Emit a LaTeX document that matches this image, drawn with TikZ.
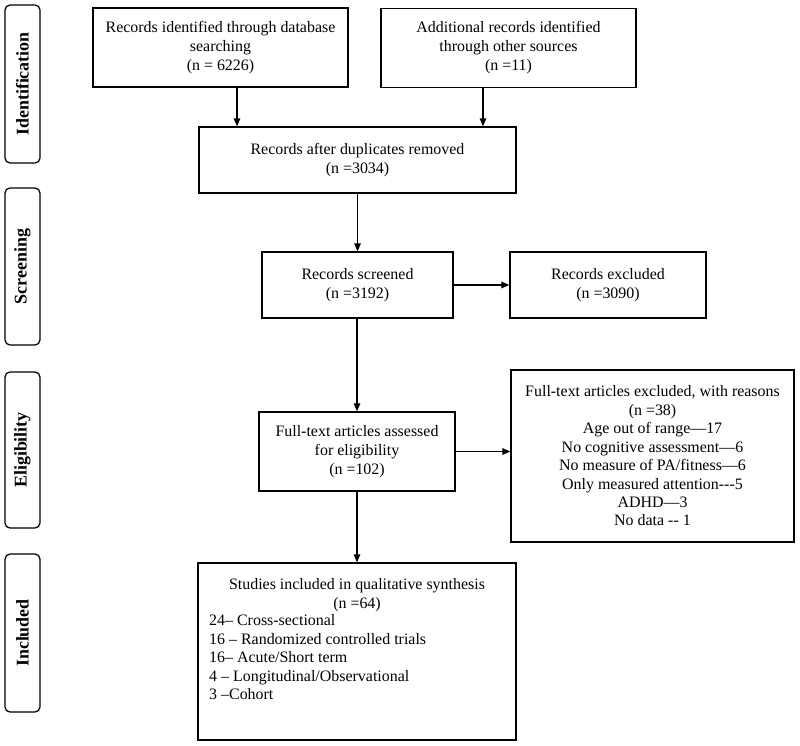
\documentclass[tikz,border=0pt]{standalone}
\usepackage{fontspec}
\setmainfont{Liberation Serif}
\usetikzlibrary{arrows.meta}
\begin{document}
\begin{tikzpicture}[x=1bp,y=-1bp,
 txt/.style={font=\fontsize{16}{19}\selectfont},
 box/.style={draw, line width=1.25bp, align=center, inner sep=0pt, txt},
 side/.style={draw, line width=1.25bp, rounded corners=5bp, inner sep=0pt, minimum height=35bp,
   font=\fontsize{18}{20}\selectfont\bfseries, rotate=90},
 arr/.style={-{Triangle[length=8bp,width=6.5bp]}, line width=1.3bp}]
\useasboundingbox[fill=white] (0,0) rectangle (800,746);

% side labels
\node[side, minimum width=158bp] (sid) at (22.5,84) {Identification};
\node[side, minimum width=157bp] (sscr) at (22.5,266.5) {Screening};
\node[side, minimum width=156bp] (selg) at (22.5,450) {Eligibility};
\node[side, minimum width=158bp] (sinc) at (22.5,633) {Included};

% boxes
\node[box, minimum width=255bp, minimum height=79bp] (id1) at (220.5,47.5)
  {Records identified through database\\searching\\(n = 6226)};
\node[box, minimum width=255bp, minimum height=79bp] (id2) at (508.5,48)
  {Additional records identified\\through other sources\\(n =11)};
\node[box, minimum width=317bp, minimum height=66bp] (dup) at (357.5,160)
  {Records after duplicates removed\\(n =3034)};
\node[box, minimum width=191bp, minimum height=66bp] (scr) at (357.5,285)
  {Records screened\\(n =3192)};
\node[box, minimum width=196bp, minimum height=66bp] (exc) at (608,285)
  {Records excluded\\(n =3090)};
\node[box, minimum width=196bp, minimum height=79bp] (elg) at (357,451.5)
  {Full-text articles assessed\\for eligibility\\(n =102)};
\node[box, minimum width=283bp, minimum height=172bp, font=\fontsize{16}{18.5}\selectfont] (ftx) at (652.5,456)
  {Full-text articles excluded, with reasons\\(n =38)\\Age out of range—17\\No cognitive assessment—6\\No measure of PA/fitness—6\\Only measured attention-{}-{}-5\\ADHD—3\\No data -{}- 1};
\node[box, minimum width=318bp, minimum height=177bp] (inc) at (357,651.5) {};
\node[txt, align=center, inner sep=0pt, anchor=north] (inct) at (357,578)
  {Studies included in qualitative synthesis\\(n =64)};
\node[txt, align=left, inner sep=0pt, anchor=north west, font=\fontsize{16}{18.5}\selectfont] (incl) at (209,614.5)
  {24– Cross-sectional\\16 – Randomized controlled trials\\16– Acute/Short term\\4 – Longitudinal/Observational\\3 –Cohort};

% connectors
\coordinate (c1) at (237,0);
\coordinate (c2) at (483,0);
\draw[arr] (id1.south -| c1) -- (dup.north -| c1);
\draw[arr] (id2.south -| c2) -- (dup.north -| c2);
\draw[arr] (dup.south -| scr.north) -- (scr.north);
\draw[arr] (scr.south -| elg.north) -- (elg.north);
\draw[arr] (scr.east) -- (exc.west);
\draw[arr] (elg.east) -- (elg.east -| ftx.west);
\draw[arr] (elg.south) -- (elg.south |- inc.north);
\end{tikzpicture}
\end{document}
